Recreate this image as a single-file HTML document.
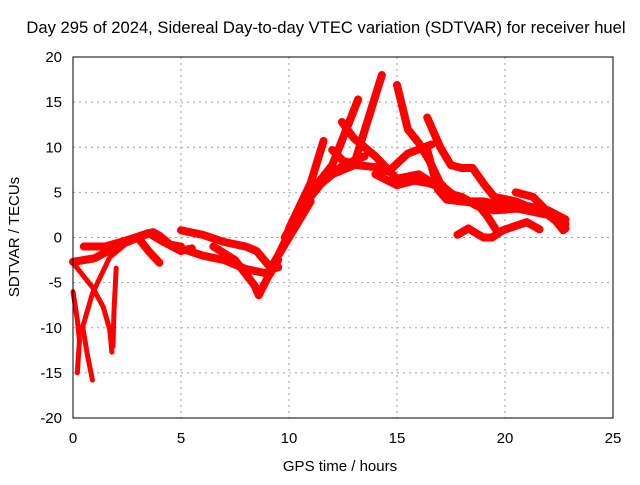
<!DOCTYPE html>
<html><head><meta charset="utf-8"><style>
body{margin:0;background:#fff}
svg text{font-family:"Liberation Sans",sans-serif;font-size:15px;fill:#000}
</style></head><body>
<svg id="chart" width="640" height="480">
<text x="326" y="33" text-anchor="middle" style="font-size:16.6px">Day 295 of 2024, Sidereal Day-to-day VTEC variation (SDTVAR) for receiver huel</text>
<g id="grid"></g><g id="series"></g>
<rect x="73" y="57" width="540" height="361" fill="none" stroke="#000" stroke-width="1"/>
<g id="ticks"></g>
<text x="340" y="471" text-anchor="middle">GPS time / hours</text>
<text transform="translate(19,237) rotate(-90)" text-anchor="middle">SDTVAR / TECUs</text>
</svg>
<script>
const xTicks=[0,5,10,15,20,25];
const yTicks=[-20,-15,-10,-5,0,5,10,15,20];
const trackHours=[
[0.5,1.5,2.5,3.5,4.2,5,5.5],
[0,1,2,3,3.7,4,4.5,5],
[3,3.5,4],
[5,6,7,8,8.5,9.2,9.5],
[5,6,7,8,9,9.5,10,10.5,11],
[6.5,7.5,8.4,8.6,9,9.5],
[9.8,11,12,13.2],
[10,11,11.6],
[11,12,13,14.3],
[12.45,13,13.5,14,15,16,17,18,19,20,21,22,22.8],
[15,15.5,16,16.5,17,17.5,18,18.7,19.5,20.5,21.5,22,22.8],
[16.4,17,17.5,18,18.5,19,19.5,20.5,21,22,22.8],
[12,12.5,13.2,14,14.6,15.5,16.6],
[14,15,15.8,16.5,17.3,18],
[17.8,18.3,19,19.4,19.9,21,21.6],
[16.4,16.9,17.3,18.7,19.2,19.6],
[20.5,21.3,22.2,22.7],
[0,0.2,0.3,0.2],
[0,0.9,1.4,1.7,1.8],
[0.9,0.65,0.45,0.9,1.7,2.5],
[2.0,1.9,1.85],
[9.5,10.5,11.5,12.5,13.5]
];
const trackValues=[
[-1,-1,-0.3,0.5,-0.5,-1.5,-1.2],
[-2.7,-2.3,-1,0,0.6,0.2,-0.8,-1],
[0,-1.5,-2.8],
[0.8,0.3,-0.5,-1,-1.5,-3.5,-3.3],
[-1.2,-2,-2.5,-3.5,-4,-2,0,2,4],
[-1,-2.5,-5.3,-6.4,-4.5,-2.5],
[0,5,8,15.3],
[1,6,10.7],
[5,7,8,18],
[12.8,11,10,9,6.5,7,5.5,4,4,3.5,3,2.5,1],
[16.9,12,10.5,8.5,6,4.8,4.5,3.5,3,3.2,3,2.5,1.5],
[13.3,10,8,7.7,7.7,6,4.5,4,3.5,3,2],
[9.7,8.5,8,7.8,7.3,9.3,10.3],
[7,5.8,6.3,6,5.3,4],
[0.3,1,0,0,0.8,1.7,0.9],
[9.7,5.3,4.2,3.8,2.3,0.8],
[5,4.5,2.3,0.8],
[-6,-9.1,-11.4,-15],
[-2.8,-5.5,-7.7,-10.2,-12.7],
[-15.8,-12.8,-9.9,-6.2,-2.2,-0.6],
[-3.4,-8,-12.1],
[-2,3,6,8,9]
];
const X=h=>73+h*21.6, Y=v=>237.5-v*9.025;
const ns="http://www.w3.org/2000/svg";
const grid=document.getElementById('grid'),ticks=document.getElementById('ticks'),ser=document.getElementById('series');
xTicks.forEach(t=>{
 if(t>0&&t<25){const l=document.createElementNS(ns,'line');l.setAttribute('x1',X(t));l.setAttribute('x2',X(t));l.setAttribute('y1',57);l.setAttribute('y2',418);l.setAttribute('stroke','#a0a0a0');l.setAttribute('stroke-dasharray','2,4');
 
 grid.appendChild(l);}
 const s=document.createElementNS(ns,'text');s.setAttribute('x',X(t));s.setAttribute('y',443);s.setAttribute('text-anchor','middle');s.textContent=t;
 
 ticks.appendChild(s);
});
yTicks.forEach(t=>{
 if(t>-20&&t<20){const l=document.createElementNS(ns,'line');l.setAttribute('x1',73);l.setAttribute('x2',613);l.setAttribute('y1',Y(t));l.setAttribute('y2',Y(t));l.setAttribute('stroke','#a0a0a0');l.setAttribute('stroke-dasharray','2,4');
 
 grid.appendChild(l);}
 const s=document.createElementNS(ns,'text');s.setAttribute('x',62);s.setAttribute('y',Y(t)+5);s.setAttribute('text-anchor','end');s.textContent=t;
 
 ticks.appendChild(s);
});
trackHours.forEach((hs,i)=>{
 const p=document.createElementNS(ns,'polyline');
 p.setAttribute('points',hs.map((h,j)=>X(h)+','+Y(trackValues[i][j])).join(' '));
 p.setAttribute('fill','none');p.setAttribute('stroke','#f00');
 const thin=i>=17&&i<=20;
 p.setAttribute('stroke-width',thin?5:8);p.setAttribute('stroke-linejoin','round');p.setAttribute('stroke-linecap','round');
 
 
 ser.appendChild(p);
});
</script>
</body></html>
